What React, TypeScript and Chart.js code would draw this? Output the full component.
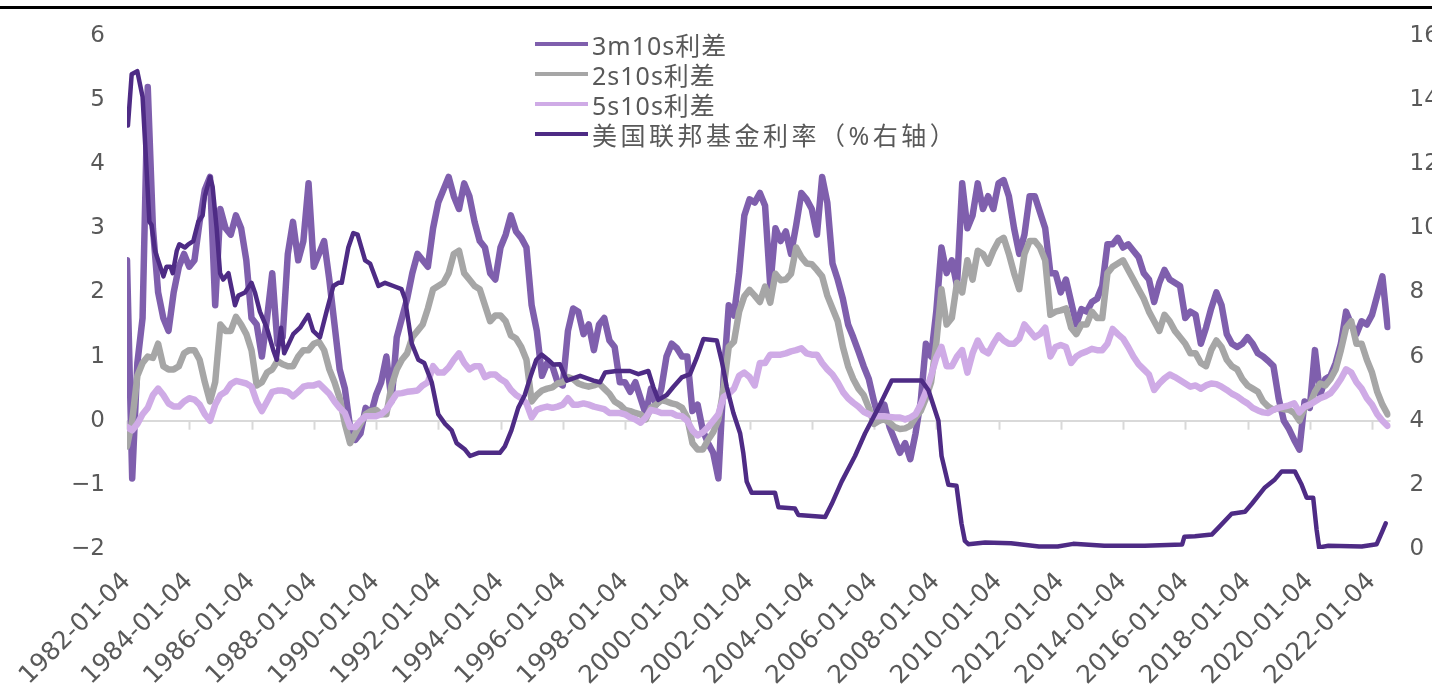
import React, { useEffect, useRef } from "react";
import { Chart, registerables } from "chart.js";

Chart.register(...registerables);

// ---- data -------------------------------------------------------------
// Spread observations on a bi-monthly grid (Jan, Mar, May, Jul, Sep, Nov), 1982-01 .. 2022-07
const spreadMonths = [1, 3, 5, 7, 9, 11];

// 3m10s spread (pct pts)
const s3m10s = [
  2.5, -0.9, 0.9, 1.6, 5.2, 3.0,
  2.0, 1.6, 1.4, 2.0, 2.4, 2.6,
  2.4, 2.5, 3.1, 3.6, 3.8, 1.8,
  3.3, 3.0, 2.9, 3.2, 3.0, 2.5,
  1.6, 1.5, 1.0, 1.6, 2.3, 1.2,
  1.3, 2.6, 3.1, 2.5, 2.8, 3.7,
  2.4, 2.6, 2.8, 2.2, 1.5, 0.8,
  0.5, -0.1, -0.3, -0.2, 0.2, 0.1,
  0.4, 0.6, 1.0, 0.3, 1.3, 1.6,
  1.9, 2.3, 2.6, 2.5, 2.4, 3.0,
  3.4, 3.6, 3.8, 3.5, 3.3, 3.7,
  3.5, 3.1, 2.8, 2.7, 2.3, 2.2,
  2.7, 2.9, 3.2, 2.95, 2.85, 2.7,
  1.8, 1.4, 0.7, 0.9, 0.85, 0.6,
  0.55, 1.4, 1.75, 1.7, 1.35, 1.5,
  1.1, 1.5, 1.6, 1.25, 1.15, 0.6,
  0.6, 0.45, 0.6, 0.35, 0.1, 0.5,
  0.25, 0.5, 1.0, 1.2, 1.13, 1.0,
  1.0, 0.15, 0.25, -0.15, -0.35, -0.5,
  -0.9, 0.65, 1.8, 1.64, 2.3, 3.2,
  3.45, 3.4, 3.55, 3.35, 2.1, 3.0,
  2.8, 2.95, 2.6, 3.05, 3.55, 3.45,
  3.3, 2.9, 3.8, 3.4, 2.45, 2.2,
  1.9, 1.5, 1.3, 1.08, 0.85, 0.65,
  0.3, 0.0, 0.25, -0.1, -0.3, -0.5,
  -0.35, -0.6, -0.2, 0.3, 1.2, 1.0,
  1.7, 2.7, 2.3, 2.5, 2.1, 3.7,
  3.0, 3.2, 3.7, 3.3, 3.5, 3.3,
  3.7, 3.75, 3.5, 3.0, 2.6, 2.9,
  3.5, 3.5, 3.25, 3.0, 2.3, 2.3,
  2.0, 2.2, 1.85, 1.5, 1.74, 1.7,
  1.85, 1.9, 2.1, 2.75, 2.75, 2.85,
  2.7, 2.75, 2.65, 2.55, 2.3, 2.2,
  1.85, 2.15, 2.35, 2.2, 2.15, 2.1,
  1.6, 1.7, 1.65, 1.2, 1.45, 1.75,
  2.0, 1.8, 1.35, 1.2, 1.15, 1.2,
  1.3, 1.2, 1.05, 1.0, 0.93, 0.85,
  0.35, 0.0, -0.13, -0.3, -0.45, 0.3,
  0.2, 1.1, 0.4, 0.65, 0.7, 0.9,
  1.2, 1.7, 1.5, 1.35, 1.55, 1.5,
  1.65, 1.95, 2.25, 1.46,
];

// 2s10s spread (pct pts)
const s2s10s = [
  -0.4, 0.0, 0.7, 0.9, 1.0, 0.98,
  1.2, 0.85, 0.8, 0.8, 0.85, 1.05,
  1.1, 1.1, 0.95, 0.6, 0.3, 0.6,
  1.5, 1.4, 1.4, 1.62, 1.5, 1.35,
  1.1, 0.55, 0.6, 0.75, 0.8, 0.93,
  0.88, 0.85, 0.85, 1.0, 1.1, 1.1,
  1.2, 1.23, 1.1, 0.8, 0.6, 0.35,
  -0.05, -0.35, -0.2, -0.05, 0.1, 0.15,
  0.17, 0.1, 0.1, 0.55, 0.8, 0.95,
  1.05, 1.3, 1.4, 1.5, 1.75, 2.05,
  2.1, 2.15, 2.3, 2.6, 2.65, 2.3,
  2.2, 2.1, 2.05, 1.8, 1.55, 1.64,
  1.64, 1.55, 1.33, 1.28, 1.15, 0.95,
  0.3, 0.4, 0.47, 0.5, 0.52, 0.58,
  0.6, 0.68, 0.65, 0.58, 0.55, 0.53,
  0.55, 0.58, 0.5, 0.42, 0.3, 0.25,
  0.17, 0.15, 0.12, 0.1, 0.02, 0.2,
  0.25, 0.32, 0.3, 0.27, 0.25, 0.2,
  0.05, -0.35, -0.45, -0.45, -0.3, -0.18,
  0.02, 0.5, 1.15, 1.23, 1.7, 1.94,
  2.04, 1.95, 1.85, 2.09, 1.84, 2.29,
  2.19, 2.2, 2.29, 2.7, 2.55, 2.45,
  2.44, 2.35, 2.25, 1.95, 1.75, 1.55,
  1.15, 0.85, 0.65, 0.5, 0.4, 0.2,
  -0.05, 0.0, 0.02, -0.03, -0.1, -0.13,
  -0.12, -0.08, 0.05, 0.15, 0.35, 0.6,
  1.2, 2.05, 1.5, 1.6, 2.15, 2.0,
  2.5, 2.2, 2.65, 2.6, 2.45, 2.65,
  2.8, 2.85, 2.6, 2.3, 2.05, 2.6,
  2.8, 2.8, 2.7, 2.5, 1.65, 1.7,
  1.72, 1.75, 1.45, 1.35, 1.5, 1.5,
  1.7, 1.6, 1.6, 2.3, 2.4, 2.45,
  2.5, 2.35, 2.2, 2.05, 1.9, 1.7,
  1.55, 1.4, 1.65, 1.55, 1.4, 1.3,
  1.2, 1.05, 1.05, 0.9, 0.85, 1.1,
  1.25, 1.15, 0.95, 0.85, 0.8, 0.65,
  0.55, 0.5, 0.45, 0.3, 0.22, 0.17,
  0.2, 0.18, 0.17, 0.12, 0.0, 0.2,
  0.25, 0.45, 0.58, 0.55, 0.65, 0.8,
  1.1, 1.45, 1.55, 1.2, 1.2, 0.95,
  0.75, 0.45, 0.25, 0.1,
];

// 5s10s spread (pct pts)
const s5s10s = [
  -0.1, -0.15, -0.05, 0.1, 0.2, 0.4,
  0.5, 0.4, 0.27, 0.22, 0.22, 0.3,
  0.35, 0.33, 0.25, 0.1, 0.0, 0.25,
  0.4, 0.45, 0.57, 0.62, 0.6, 0.58,
  0.53, 0.3, 0.15, 0.3, 0.45, 0.47,
  0.47, 0.45, 0.38, 0.45, 0.53, 0.55,
  0.55, 0.58, 0.5, 0.42, 0.3, 0.2,
  0.12, -0.1, -0.1, 0.0, 0.07, 0.07,
  0.07, 0.1, 0.17, 0.3, 0.42, 0.43,
  0.45, 0.46, 0.47, 0.55, 0.6, 0.85,
  0.75, 0.75, 0.83, 0.95, 1.05, 0.9,
  0.8, 0.85, 0.85, 0.68, 0.72, 0.72,
  0.65, 0.6, 0.48, 0.4, 0.35, 0.27,
  0.05, 0.17, 0.2, 0.22, 0.2, 0.22,
  0.25, 0.35, 0.25, 0.25, 0.27, 0.25,
  0.22, 0.2, 0.18, 0.12, 0.12, 0.12,
  0.1, 0.05, 0.02, -0.03, 0.05, 0.17,
  0.15, 0.12, 0.12, 0.12, 0.08, 0.07,
  0.0, -0.15, -0.23, -0.18, -0.1, 0.0,
  0.1, 0.37, 0.42, 0.5, 0.7, 0.75,
  0.68, 0.55, 0.9, 0.9, 1.03, 1.03,
  1.03, 1.05, 1.08, 1.1, 1.13, 1.05,
  1.03, 1.03, 0.9, 0.8, 0.72, 0.6,
  0.45, 0.35, 0.28, 0.22, 0.14, 0.1,
  0.07, 0.07, 0.07, 0.06, 0.05, 0.05,
  0.02, 0.05, 0.1, 0.25, 0.45, 0.7,
  0.98, 1.15, 0.85, 0.85, 1.0, 1.1,
  0.75, 1.05, 1.25, 1.1, 1.05, 1.2,
  1.33, 1.25, 1.2, 1.2, 1.28, 1.5,
  1.4, 1.3, 1.35, 1.45, 1.0, 1.15,
  1.18, 1.15, 0.9, 1.0, 1.05, 1.08,
  1.12, 1.1, 1.1, 1.2, 1.43, 1.35,
  1.28, 1.15, 1.0, 0.88, 0.8, 0.72,
  0.48, 0.58, 0.66, 0.72, 0.68, 0.63,
  0.58, 0.53, 0.55, 0.5, 0.55, 0.58,
  0.57, 0.53, 0.48, 0.42, 0.38, 0.32,
  0.27, 0.2, 0.16, 0.13, 0.12, 0.17,
  0.2, 0.22, 0.24, 0.27, 0.13, 0.22,
  0.25, 0.3, 0.35, 0.38, 0.43, 0.53,
  0.65, 0.8, 0.75, 0.6, 0.5, 0.35,
  0.25, 0.1, 0.0, -0.08,
];

// Fed funds rate (%), sampled where the path changes direction
const fedTimes = [
  1982.03, 1982.15, 1982.33, 1982.5, 1982.72, 1982.79, 1982.9, 1983.17, 1983.27, 1983.4,
  1983.47, 1983.6, 1983.68, 1983.86, 1983.97, 1984.13, 1984.29, 1984.43, 1984.5, 1984.67,
  1984.75, 1984.88, 1984.99, 1985.09, 1985.26, 1985.47, 1985.58, 1985.79, 1986.0, 1986.11,
  1986.27, 1986.49, 1986.7, 1986.81, 1986.95, 1987.05, 1987.34, 1987.56, 1987.82, 1987.98,
  1988.2, 1988.41, 1988.63, 1988.79, 1988.9, 1989.11, 1989.27, 1989.41, 1989.65, 1989.81,
  1990.08, 1990.29, 1990.56, 1990.82, 1990.93, 1991.15, 1991.36, 1991.55, 1991.79, 1992.0,
  1992.22, 1992.43, 1992.59, 1992.86, 1993.02, 1993.29, 1993.61, 1993.98, 1994.14, 1994.35,
  1994.57, 1994.78, 1994.99, 1995.15, 1995.32, 1995.53, 1995.7, 1995.91, 1996.13, 1996.56,
  1996.99, 1997.2, 1997.36, 1997.73, 1998.16, 1998.43, 1998.75, 1998.91, 1999.07, 1999.34,
  1999.55, 1999.82, 2000.09, 2000.3, 2000.52, 2000.95, 2001.11, 2001.27, 2001.48, 2001.7,
  2001.8, 2001.91, 2002.07, 2002.82, 2002.93, 2003.46, 2003.57, 2004.43, 2004.64, 2004.96,
  2005.39, 2005.71, 2006.14, 2006.57, 2007.53, 2007.75, 2008.07, 2008.17, 2008.39, 2008.65,
  2008.81, 2008.92, 2009.03, 2009.57, 2010.4, 2011.3, 2011.9, 2012.4, 2013.4, 2014.7,
  2015.9, 2015.97, 2016.31, 2016.85, 2017.06, 2017.49, 2017.92, 2018.14, 2018.56, 2018.88,
  2019.1, 2019.52, 2019.74, 2019.9, 2020.11, 2020.22, 2020.3, 2020.6, 2021.67, 2022.15,
  2022.31, 2022.44,
];
const fedRate = [
  13.2, 14.8, 14.9, 14.1, 10.2, 10.1, 9.3, 8.5, 8.8, 8.8,
  8.6, 9.3, 9.5, 9.4, 9.5, 9.6, 10.2, 10.4, 11.0, 11.6,
  11.3, 10.0, 8.6, 8.4, 8.6, 7.6, 7.9, 8.0, 8.3, 8.0,
  7.4, 6.9, 6.2, 5.9, 6.9, 6.1, 6.7, 6.9, 7.3, 6.8,
  6.6, 7.4, 8.2, 8.3, 8.3, 9.4, 9.85, 9.8, 9.0, 8.9,
  8.2, 8.3, 8.2, 8.1, 7.8, 6.4, 5.9, 5.8, 5.2, 4.2,
  3.9, 3.7, 3.3, 3.1, 2.9, 3.0, 3.0, 3.0, 3.2, 3.7,
  4.4, 4.8, 5.45, 5.9, 6.06, 5.9, 5.75, 5.76, 5.25, 5.4,
  5.25, 5.2, 5.5, 5.55, 5.55, 5.45, 5.55, 5.05, 4.65, 4.8,
  5.05, 5.35, 5.45, 5.95, 6.55, 6.5, 5.85, 5.05, 4.25, 3.6,
  3.0, 2.1, 1.75, 1.75, 1.3, 1.26, 1.06, 1.0, 1.4, 2.1,
  2.9, 3.6, 4.4, 5.25, 5.25, 4.95, 4.0, 2.9, 2.0, 1.97,
  0.8, 0.25, 0.15, 0.2, 0.18, 0.08, 0.08, 0.16, 0.1, 0.1,
  0.14, 0.38, 0.4, 0.45, 0.66, 1.1, 1.16, 1.41, 1.92, 2.17,
  2.42, 2.42, 2.0, 1.6, 1.6, 0.6, 0.05, 0.1, 0.08, 0.15,
  0.5, 0.8,
];

const xTickLabels = [
  "1982-01-04", "1984-01-04", "1986-01-04", "1988-01-04", "1990-01-04", "1992-01-04",
  "1994-01-04", "1996-01-04", "1998-01-04", "2000-01-04", "2002-01-04", "2004-01-04",
  "2006-01-04", "2008-01-04", "2010-01-04", "2012-01-04", "2014-01-04", "2016-01-04",
  "2018-01-04", "2020-01-04", "2022-01-04",
];
const leftTicks = [-2, -1, 0, 1, 2, 3, 4, 5, 6];
const rightTicks = [0, 2, 4, 6, 8, 10, 12, 14, 16];

const seriesNames = ["3m10s利差", "2s10s利差", "5s10s利差", "美国联邦基金利率（%右轴）"];
const seriesColors = ["#7f5fad", "#a6a6a6", "#cfabe6", "#4e2b85"];

// ---- helpers ----------------------------------------------------------
const spreadTime = (i: number) => 1982 + Math.floor(i / 6) + (spreadMonths[i % 6] - 1) / 12;
const toPoints = (vals: number[]) => vals.map((v, i) => ({ x: spreadTime(i), y: v }));

const AXIS_FONT = '"DejaVu Sans", "Noto Sans CJK SC", sans-serif';
const LEGEND_FONT = '"Noto Sans", "Noto Sans CJK SC", sans-serif';
const TEXT = "#595959";

const CANVAS_W = 1470;
const CANVAS_H = 689;

// short tick marks hanging below the zero line at each category tick
const zeroLineTicks = {
  id: "zeroLineTicks",
  beforeDatasetsDraw(chart: any) {
    const { ctx, scales } = chart;
    const y0 = scales.yL.getPixelForValue(0);
    ctx.save();
    ctx.strokeStyle = "#d9d9d9";
    ctx.lineWidth = 2;
    scales.x.ticks.forEach((t: any) => {
      const x = Math.round(scales.x.getPixelForValue(t.value)) + 0.5;
      ctx.beginPath();
      ctx.moveTo(x, y0);
      ctx.lineTo(x, y0 + 9);
      ctx.stroke();
    });
    ctx.restore();
  },
};

export default function App() {
  const canvasRef = useRef<HTMLCanvasElement | null>(null);

  useEffect(() => {
    const canvas = canvasRef.current;
    if (!canvas) return;
    const spreadStyle = {
      pointRadius: 0,
      borderWidth: 6.5,
      tension: 0,
      borderJoinStyle: "round" as const,
      borderCapStyle: "round" as const,
      yAxisID: "yL",
    };
    const chart = new Chart(canvas, {
      type: "line",
      data: {
        datasets: [
          { label: seriesNames[0], data: toPoints(s3m10s), borderColor: seriesColors[0], order: 3, ...spreadStyle },
          { label: seriesNames[1], data: toPoints(s2s10s), borderColor: seriesColors[1], order: 2, ...spreadStyle },
          { label: seriesNames[2], data: toPoints(s5s10s), borderColor: seriesColors[2], order: 1, ...spreadStyle },
          {
            label: seriesNames[3],
            data: fedTimes.map((t, i) => ({ x: t, y: fedRate[i] })),
            borderColor: seriesColors[3],
            borderWidth: 4.5,
            pointRadius: 0,
            tension: 0,
            borderJoinStyle: "round",
            borderCapStyle: "round",
            yAxisID: "yR",
            order: 0,
          },
        ],
      },
      options: {
        responsive: false,
        animation: false,
        events: [],
        layout: { padding: { top: 23, left: 0, right: 0, bottom: 0 } },
        plugins: { legend: { display: false }, tooltip: { enabled: false }, title: { display: false } },
        scales: {
          x: {
            type: "linear",
            min: 1982,
            max: 2022.594,
            grid: { display: false },
            border: { display: false },
            afterBuildTicks: (s: any) => {
              s.ticks = xTickLabels.map((l) => ({ value: parseInt(l.slice(0, 4), 10) }));
            },
            afterFit: (s: any) => {
              s.height = 140;
            },
            ticks: {
              autoSkip: false,
              maxRotation: 45,
              minRotation: 45,
              padding: 10,
              color: TEXT,
              font: { family: AXIS_FONT, size: 25 },
              callback: (v: any) => xTickLabels.find((l) => parseInt(l.slice(0, 4), 10) === v) ?? "",
            },
          },
          yL: {
            type: "linear",
            position: "left",
            min: -2,
            max: 6,
            afterBuildTicks: (s: any) => {
              s.ticks = leftTicks.map((v) => ({ value: v }));
            },
            afterFit: (s: any) => {
              s.width = 127;
            },
            grid: {
              drawTicks: false,
              lineWidth: 2,
              color: (c: any) => (c.tick && c.tick.value === 0 ? "#d9d9d9" : "rgba(0,0,0,0)"),
            },
            border: { display: false },
            ticks: {
              padding: 22,
              color: TEXT,
              font: { family: AXIS_FONT, size: 23 },
              callback: (v: any) => (v < 0 ? `\u2212${-v}` : `${v}`),
            },
          },
          yR: {
            type: "linear",
            position: "right",
            min: 0,
            max: 16,
            afterBuildTicks: (s: any) => {
              s.ticks = rightTicks.map((v) => ({ value: v }));
            },
            afterFit: (s: any) => {
              s.width = CANVAS_W - 1390.5;
            },
            grid: { display: false, drawTicks: false },
            border: { display: false },
            ticks: {
              padding: 19,
              color: TEXT,
              font: { family: AXIS_FONT, size: 23 },
            },
          },
        },
      },
      plugins: [zeroLineTicks],
    });
    return () => chart.destroy();
  }, []);

  return (
    <div
      style={{
        position: "fixed",
        left: 0,
        top: 0,
        width: 1432,
        height: 689,
        overflow: "hidden",
        background: "#ffffff",
      }}
    >
      <canvas
        ref={canvasRef}
        width={CANVAS_W}
        height={CANVAS_H}
        style={{ position: "absolute", left: 0, top: 0, width: CANVAS_W, height: CANVAS_H }}
      />
      <div style={{ position: "absolute", left: 0, top: 6, width: 1432, height: 2.5, background: "#000000" }} />
      <div
        style={{
          position: "absolute",
          left: 535,
          top: 29,
          fontFamily: LEGEND_FONT,
          fontSize: 25,
          color: TEXT,
        }}
      >
        {seriesNames.map((name, i) => (
          <div key={name} style={{ display: "flex", alignItems: "center", height: 30, whiteSpace: "nowrap" }}>
            <span style={{ display: "inline-block", width: 53, height: 4, background: seriesColors[i], marginRight: 4 }} />
            <span style={{ letterSpacing: i === 3 ? "3.5px" : "1px" }}>{name}</span>
          </div>
        ))}
      </div>
    </div>
  );
}
